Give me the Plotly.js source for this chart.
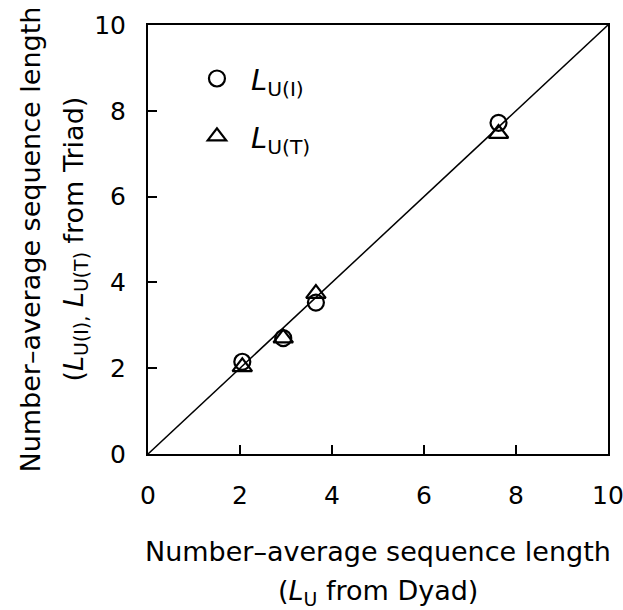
<!DOCTYPE html>
<html><head><meta charset="utf-8">
<script src="https://cdn.plot.ly/plotly-3.0.1.min.js"></script>
<style>body{margin:0;padding:0;background:#fff}</style>
</head><body>
<div id="chart" style="width:623px;height:610px"></div>
<script>
const dyadLU = [2.05, 2.94, 3.65, 7.62];
const triadLUI = [2.15, 2.70, 3.53, 7.72];
const triadLUT = [2.03, 2.70, 3.74, 7.47];
const diagX = [0, 10];
const diagY = [0, 10];
const tickVals = [0, 2, 4, 6, 8, 10];
const tickText = ['0', '2', '4', '6', '8', '10'];

const FONT = 'DejaVu Sans, Liberation Sans, sans-serif';

const traces = [
  {x: diagX, y: diagY, mode: 'lines', line: {color: '#000', width: 1.5}, showlegend: false, hoverinfo: 'skip'},
  {x: dyadLU, y: triadLUI, mode: 'markers', name: '<i>L</i><sub>U(I)</sub>', legend: 'legend',
   marker: {symbol: 'circle-open', size: 16, color: '#000', line: {width: 2.2, color: '#000'}}},
  {x: dyadLU, y: triadLUT, mode: 'markers', name: '<i>L</i><sub>U(T)</sub>', legend: 'legend2',
   marker: {symbol: 'triangle-up-open', size: 17, color: '#000', line: {width: 2.2, color: '#000'}}}
];

const axisCommon = {
  range: [0, 10], tickvals: tickVals, ticktext: tickText,
  ticks: 'inside', ticklen: 9, tickwidth: 2, tickcolor: '#000',
  showline: true, linecolor: '#000', linewidth: 2, mirror: true,
  showgrid: false, zeroline: false, ticklabeloverflow: 'allow',
  tickfont: {family: FONT, size: 25, color: '#000'}
};

const layout = {
  width: 623, height: 610,
  margin: {l: 148, r: 15, t: 25, b: 156},
  paper_bgcolor: '#fff', plot_bgcolor: '#fff',
  xaxis: Object.assign({}, axisCommon, {ticklabelstandoff: 18}),
  yaxis: Object.assign({}, axisCommon, {ticklabelstandoff: 15}),
  legend: {x: 0.076, y: 0.875, xanchor: 'left', yanchor: 'middle', bgcolor: 'rgba(0,0,0,0)',
    font: {family: FONT, size: 29, color: '#000'}, itemwidth: 58},
  legend2: {x: 0.076, y: 0.74, xanchor: 'left', yanchor: 'middle', bgcolor: 'rgba(0,0,0,0)',
    font: {family: FONT, size: 29, color: '#000'}, itemwidth: 58},
  annotations: [
    {xref: 'paper', yref: 'paper', x: 0.5, y: 0, yshift: -97, xanchor: 'center', yanchor: 'middle', showarrow: false,
     text: 'Number–average sequence length', font: {family: FONT, size: 27, color: '#000'}},
    {xref: 'paper', yref: 'paper', x: 0.5, y: 0, yshift: -138, xanchor: 'center', yanchor: 'middle', showarrow: false,
     text: '(<i>L</i><sub>U</sub> from Dyad)', font: {family: FONT, size: 27, color: '#000'}},
    {xref: 'paper', yref: 'paper', x: 0, xshift: -118, y: 0.5, xanchor: 'center', yanchor: 'middle', showarrow: false, textangle: -90,
     text: 'Number–average sequence length', font: {family: FONT, size: 27, color: '#000'}},
    {xref: 'paper', yref: 'paper', x: 0, xshift: -73, y: 0.5, xanchor: 'center', yanchor: 'middle', showarrow: false, textangle: -90,
     text: '(<i>L</i><sub>U(I),</sub> <i>L</i><sub>U(T)</sub> from Triad)', font: {family: FONT, size: 27, color: '#000'}}
  ]
};

Plotly.newPlot('chart', traces, layout, {displayModeBar: false, staticPlot: true});
</script>
</body></html>
